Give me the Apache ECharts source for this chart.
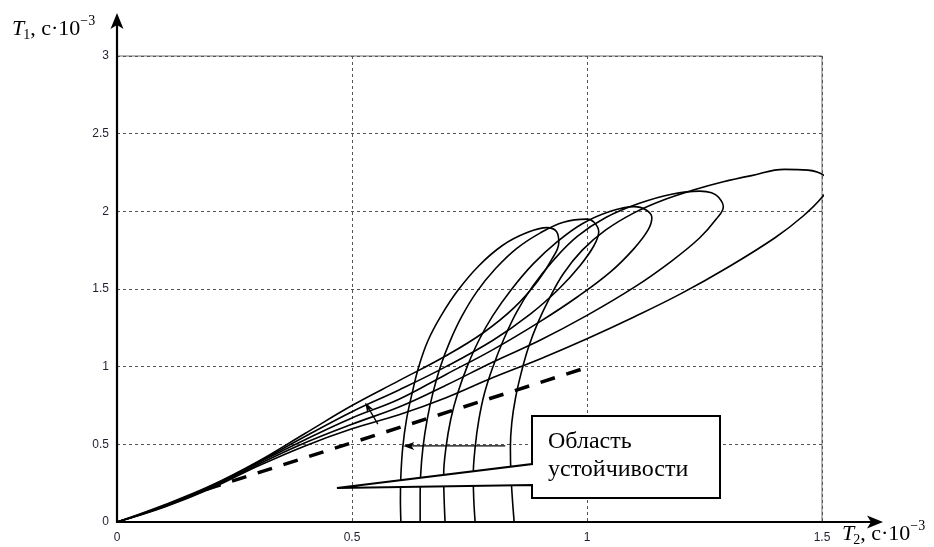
<!DOCTYPE html>
<html><head><meta charset="utf-8">
<script src="https://cdn.jsdelivr.net/npm/echarts@6/dist/echarts.min.js"></script>
<style>html,body{margin:0;padding:0;background:#fff}#c{width:934px;height:547px}</style>
</head><body><div id="c"></div>
<script>
// ---- data ----
const xTicks = [0, 0.5, 1, 1.5];
const yTicks = [0, 0.5, 1, 1.5, 2, 2.5, 3];

const loop1 = [[0,0],[0.1,0.11],[0.2,0.235],[0.3,0.39],[0.4,0.57],[0.5,0.75],[0.6,0.91],[0.7,1.07],[0.78,1.22],[0.845,1.38],[0.895,1.55],[0.925,1.69],[0.94,1.80],[0.935,1.87],[0.915,1.895],[0.87,1.86],[0.82,1.78],[0.77,1.65],[0.725,1.49],[0.69,1.33],[0.662,1.17],[0.642,1.0],[0.628,0.83],[0.616,0.66],[0.608,0.48],[0.604,0.3],[0.603,0.15],[0.604,0]];
const loop2 = [[0,0],[0.1,0.105],[0.2,0.23],[0.3,0.385],[0.4,0.55],[0.5,0.71],[0.6,0.85],[0.7,1.0],[0.8,1.17],[0.88,1.34],[0.94,1.5],[0.985,1.65],[1.015,1.78],[1.025,1.87],[1.015,1.93],[1.0,1.95],[0.95,1.93],[0.9,1.86],[0.85,1.76],[0.805,1.63],[0.765,1.48],[0.733,1.32],[0.708,1.16],[0.688,1.0],[0.672,0.83],[0.66,0.66],[0.651,0.48],[0.646,0.3],[0.645,0.15],[0.645,0]];
const loop3 = [[0,0],[0.1,0.1],[0.2,0.225],[0.3,0.38],[0.4,0.53],[0.5,0.67],[0.6,0.79],[0.7,0.95],[0.8,1.11],[0.9,1.29],[0.98,1.45],[1.05,1.61],[1.1,1.76],[1.13,1.88],[1.138,1.96],[1.125,2.01],[1.10,2.03],[1.05,2.0],[0.99,1.92],[0.935,1.8],[0.885,1.66],[0.84,1.5],[0.8,1.33],[0.77,1.17],[0.745,1.0],[0.725,0.83],[0.71,0.66],[0.7,0.48],[0.695,0.3],[0.696,0.15],[0.698,0]];
const loop4 = [[0,0],[0.1,0.1],[0.2,0.22],[0.3,0.37],[0.4,0.51],[0.5,0.63],[0.6,0.74],[0.7,0.88],[0.8,1.03],[0.9,1.17],[1.0,1.33],[1.1,1.51],[1.18,1.68],[1.24,1.83],[1.275,1.95],[1.29,2.03],[1.28,2.09],[1.265,2.12],[1.24,2.13],[1.18,2.11],[1.11,2.05],[1.04,1.96],[0.98,1.84],[0.93,1.69],[0.885,1.52],[0.85,1.35],[0.822,1.17],[0.8,1.0],[0.782,0.83],[0.77,0.66],[0.762,0.48],[0.758,0.3],[0.759,0.15],[0.762,0]];
const loop5 = [[0,0],[0.1,0.095],[0.2,0.215],[0.3,0.36],[0.4,0.49],[0.5,0.6],[0.6,0.69],[0.7,0.8],[0.8,0.93],[0.9,1.05],[1.0,1.18],[1.1,1.32],[1.2,1.47],[1.3,1.64],[1.4,1.83],[1.46,1.97],[1.5,2.09],[1.515,2.17],[1.505,2.23],[1.47,2.265],[1.42,2.27],[1.35,2.23],[1.29,2.19],[1.23,2.14],[1.16,2.07],[1.10,1.99],[1.04,1.88],[0.99,1.75],[0.95,1.6],[0.92,1.44],[0.895,1.28],[0.875,1.12],[0.86,0.96],[0.848,0.8],[0.84,0.64],[0.837,0.48],[0.838,0.32],[0.841,0.16],[0.845,0]];
const boundary = [[0.19,0.21],[1.0,0.995]];

// annotations (data units)
const fanArrow = [[0.555,0.63],[0.528,0.77]];
const regionArrow = [[0.826,0.49],[0.609,0.49]];
const calloutBox = [[0.883,0.683],[1.283,0.155]];
const calloutTip = [0.468,0.219];
const calloutAttach = [0.373,0.238];
const calloutText = ['Область', 'устойчивости'];

const chart = echarts.init(document.getElementById('c'));
const gridLine = {show:true, lineStyle:{color:'#555', width:1, type:[3,3]}};
const lab = {color:'#1f1f30', fontSize:12, fontFamily:'Arial'};
chart.setOption({
  animation:false,
  grid:{left:117, right:112, top:56, bottom:25, show:true, borderColor:'#6e6e6e', borderWidth:1},
  xAxis:{type:'value', min:xTicks[0], max:xTicks[xTicks.length-1], interval:0.5,
    axisLine:{show:false}, axisTick:{show:false}, splitLine:gridLine,
    axisLabel:Object.assign({margin:10}, lab)},
  yAxis:{type:'value', min:yTicks[0], max:yTicks[yTicks.length-1], interval:0.5,
    axisLine:{show:false}, axisTick:{show:false}, splitLine:gridLine,
    axisLabel:Object.assign({margin:8}, lab)},
  series: [loop1,loop2,loop3,loop4,loop5].map((d,i)=>({
    type:'line', name:'loop'+(i+1), data:d, smooth:0.4, symbol:'none', clip:true,
    lineStyle:{color:'#000', width:1.6}, z:3
  })).concat([{
    type:'line', name:'boundary', data:boundary, symbol:'none',
    lineStyle:{color:'#000', width:3.5, type:[15,12]}, z:4
  }])
});

function P(p){ return chart.convertToPixel({gridIndex:0}, p); }
const G = [];
function arrow(a, b, len, w, lw){
  const dx=b[0]-a[0], dy=b[1]-a[1], L=Math.hypot(dx,dy), ux=dx/L, uy=dy/L;
  const base=[b[0]-ux*len, b[1]-uy*len];
  G.push({type:'line', z:60, shape:{x1:a[0],y1:a[1],x2:b[0]-ux*len*0.6,y2:b[1]-uy*len*0.6}, style:{stroke:'#000', lineWidth:lw}});
  G.push({type:'polygon', z:60, shape:{points:[b,[base[0]-uy*w/2, base[1]+ux*w/2],[b[0]-ux*len*0.75,b[1]-uy*len*0.75],[base[0]+uy*w/2, base[1]-ux*w/2]]}, style:{fill:'#000'}});
}
const O=P([0,0]), YT=P([0,3]), XR=P([1.5,0]);
arrow([O[0], O[1]+1], [O[0], YT[1]-43], 16, 13, 2.2);
arrow([O[0]-1, O[1]], [XR[0]+61, O[1]], 16, 13, 2.2);
arrow(P(fanArrow[0]), P(fanArrow[1]), 10, 7, 1.3);
arrow(P(regionArrow[0]), P(regionArrow[1]), 11, 8, 1.3);
const b0=P(calloutBox[0]), b1=P(calloutBox[1]), tp=P(calloutTip);
const a0=P([calloutBox[0][0], calloutAttach[0]]), a1=P([calloutBox[0][0], calloutAttach[1]]);
G.push({type:'polygon', z:70, shape:{points:[[b0[0],b0[1]],[b1[0],b0[1]],[b1[0],b1[1]],[b0[0],b1[1]],[a1[0],a1[1]],tp,[a0[0],a0[1]]]},
  style:{fill:'#fff', stroke:'#000', lineWidth:2}});
G.push({type:'text', z:71, style:{text:calloutText[0], x:b0[0]+16, y:b0[1]+26, font:'24px "Liberation Serif"', fill:'#000', verticalAlign:'middle'}});
G.push({type:'text', z:71, style:{text:calloutText[1], x:b0[0]+16, y:b0[1]+54, font:'24px "Liberation Serif"', fill:'#000', verticalAlign:'middle'}});

const ctx=document.createElement('canvas').getContext('2d');
function mw(t,f){ctx.font=f;return ctx.measureText(t).width;}
function axisName(x, base, sub){
  const fI='italic 22px "Liberation Serif"', fN='22px "Liberation Serif"', fS='14px "Liberation Serif"';
  let cx=x;
  G.push({type:'text', z:80, style:{text:'T', x:cx, y:base-7, font:fI, fill:'#000', verticalAlign:'middle'}});
  cx+=mw('T',fI)-1;
  G.push({type:'text', z:80, style:{text:sub, x:cx, y:base-1, font:fS, fill:'#000', verticalAlign:'middle'}});
  cx+=mw(sub,fS);
  G.push({type:'text', z:80, style:{text:', c·10', x:cx, y:base-7, font:fN, fill:'#000', verticalAlign:'middle'}});
  cx+=mw(', c·10',fN);
  G.push({type:'text', z:80, style:{text:'−3', x:cx, y:base-15, font:fS, fill:'#000', verticalAlign:'middle'}});
}
axisName(12, 36, '1');
axisName(842, 541, '2');
chart.setOption({graphic:{elements:G}});
</script></body></html>
